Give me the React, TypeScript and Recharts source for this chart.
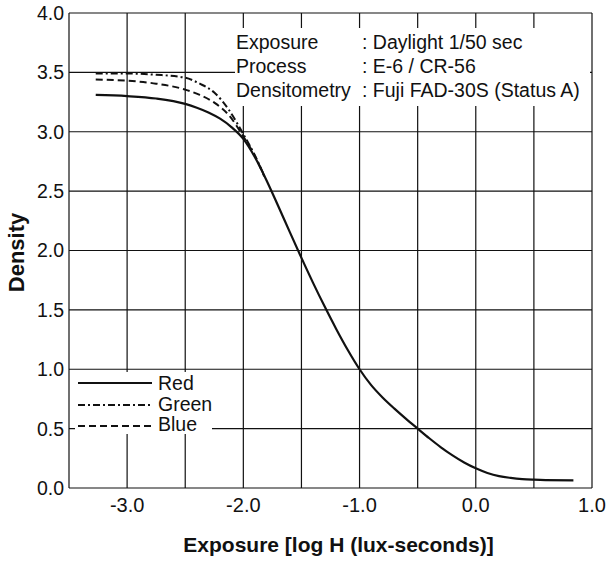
import React from 'react';
import { LineChart, Line, XAxis, YAxis, CartesianGrid } from 'recharts';

// ---- data ----
const redExposure = [-3.27, -3.0, -2.75, -2.5, -2.4, -2.3, -2.2, -2.1, -2.0, -1.9, -1.8, -1.7, -1.6, -1.5, -1.4, -1.3, -1.2, -1.1, -1.0, -0.9, -0.8, -0.7, -0.6, -0.5, -0.4, -0.3, -0.2, -0.1, 0.0, 0.1, 0.2, 0.3, 0.4, 0.5, 0.6, 0.84];
const redDensity = [3.31, 3.3, 3.28, 3.235, 3.2025, 3.1625, 3.11, 3.0375, 2.94, 2.785, 2.59, 2.375, 2.155, 1.9375, 1.7275, 1.5275, 1.3375, 1.16, 1.0, 0.866, 0.76, 0.668, 0.582, 0.5, 0.419, 0.343, 0.275, 0.215, 0.166, 0.127, 0.1, 0.085, 0.075, 0.07, 0.067, 0.065];

const greenExposure = [-3.27, -3.0, -2.75, -2.5, -2.375, -2.25, -2.125, -2.0, -1.9, -1.82];
const greenDensity = [3.49, 3.49, 3.48, 3.455, 3.405, 3.33, 3.185, 2.98, 2.8, 2.63];

const blueExposure = [-3.27, -3.0, -2.75, -2.5, -2.375, -2.25, -2.125, -2.0, -1.9, -1.82];
const blueDensity = [3.44, 3.43, 3.405, 3.355, 3.31, 3.245, 3.14, 2.96, 2.795, 2.625];

const exposureTicks = [-3.5, -3.0, -2.5, -2.0, -1.5, -1.0, -0.5, 0.0, 0.5, 1.0];
const densityTicks = [0, 0.5, 1.0, 1.5, 2.0, 2.5, 3.0, 3.5, 4.0];

const seriesNames = ['Red', 'Green', 'Blue'];
const annotationLabels = ['Exposure', 'Process', 'Densitometry'];
const annotationValues = [': Daylight 1/50 sec', ': E-6 / CR-56', ': Fuji FAD-30S (Status A)'];

const xTitle = 'Exposure [log H (lux-seconds)]';
const yTitle = 'Density';

const toPoints = (xs: number[], ys: number[]) => xs.map((e, i) => ({ e, d: ys[i] }));
const redData = toPoints(redExposure, redDensity);
const greenData = toPoints(greenExposure, greenDensity);
const blueData = toPoints(blueExposure, blueDensity);

const FONT = '"Liberation Sans", Arial, Helvetica, sans-serif';
const INK = '#111';
const dashes = ['', '7 3 2 3', '7 4'];

export default function App() {
  return (
    <div style={{ position: 'absolute', left: 0, top: 0, width: 609, height: 561, background: '#fff', fontFamily: FONT }}>
      <LineChart width={609} height={561} margin={{ top: 13, right: 17, bottom: 43, left: 9 }}>
        <CartesianGrid stroke={INK} strokeWidth={1.2} />
        <XAxis
          dataKey="e"
          type="number"
          domain={[-3.5, 1.0]}
          ticks={exposureTicks}
          interval={0}
          allowDataOverflow
          height={30}
          axisLine={false}
          tickLine={false}
          tickSize={6}
          tickMargin={4}
          tick={{ fill: INK, fontSize: 20, fontFamily: FONT }}
          tickFormatter={(v: number) => (Number.isInteger(v) ? v.toFixed(1) : '')}
          label={{
            value: xTitle,
            content: (props: any) => {
              const vb = props.viewBox || { x: 69, y: 488, width: 523 };
              return (
                <text x={vb.x + vb.width / 2 + 8} y={vb.y + 64} textAnchor="middle" fontFamily={FONT} fontWeight="bold" fontSize={21} fill={INK}>
                  {xTitle}
                </text>
              );
            },
          }}
        />
        <YAxis
          type="number"
          domain={[0, 4]}
          ticks={densityTicks}
          interval={0}
          width={60}
          axisLine={false}
          tickLine={false}
          tickSize={3}
          tickMargin={2}
          tick={{ fill: INK, fontSize: 19.5, fontFamily: FONT }}
          tickFormatter={(v: number) => v.toFixed(1)}
          label={{
            value: yTitle,
            content: (props: any) => {
              const vb = props.viewBox || { x: 9, y: 13, height: 475 };
              const cy = vb.y + vb.height / 2 + 2;
              return (
                <text transform={`translate(${vb.x + 15}, ${cy}) rotate(-90)`} textAnchor="middle" fontFamily={FONT} fontWeight="bold" fontSize={22} fill={INK}>
                  {yTitle}
                </text>
              );
            },
          }}
        />
        <Line data={blueData} dataKey="d" type="monotone" stroke={INK} strokeWidth={2} strokeDasharray={dashes[2]} dot={false} isAnimationActive={false} />
        <Line data={greenData} dataKey="d" type="monotone" stroke={INK} strokeWidth={2} strokeDasharray={dashes[1]} dot={false} isAnimationActive={false} />
        <Line data={redData} dataKey="d" type="monotone" stroke={INK} strokeWidth={2.2} dot={false} isAnimationActive={false} />
      </LineChart>
      <svg width={609} height={561} style={{ position: 'absolute', left: 0, top: 0, pointerEvents: 'none' }}>
        {/* annotation block */}
        <rect x={235} y={28} width={355} height={78} fill="#fff" />
        {annotationLabels.map((t, i) => (
          <g key={t}>
            <text x={236} y={49 + i * 24} fontFamily={FONT} fontSize={19.5} fill={INK}>{t}</text>
            <text x={362} y={49 + i * 24} fontFamily={FONT} fontSize={19.5} fill={INK}>{annotationValues[i]}</text>
          </g>
        ))}
        {/* legend */}
        <rect x={75} y={372} width={137} height={62} fill="#fff" />
        {seriesNames.map((n, i) => {
          const ly = [383, 405, 426][i];
          return (
            <g key={n}>
              <line x1={78} x2={152} y1={ly} y2={ly} stroke={INK} strokeWidth={2} strokeDasharray={dashes[i] || undefined} />
              <text x={158} y={[390, 411, 431][i]} fontFamily={FONT} fontSize={19.5} fill={INK}>{n}</text>
            </g>
          );
        })}
      </svg>
    </div>
  );
}
